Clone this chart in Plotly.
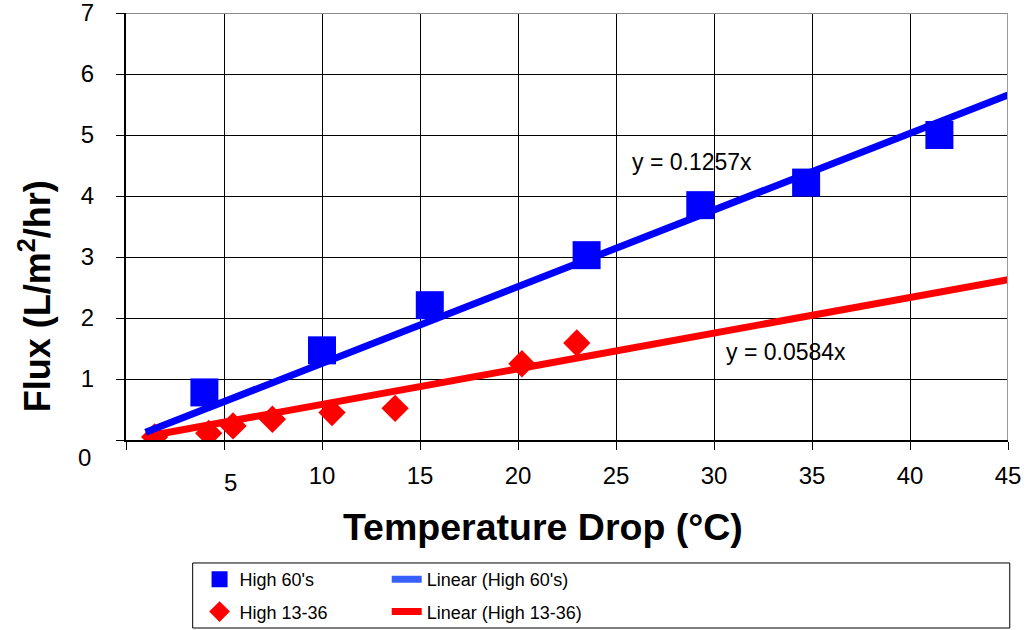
import plotly.graph_objects as go

# ---- data ----
hi60_x = [4.0, 10.0, 15.5, 23.5, 29.3, 34.7, 41.5]
hi60_y = [0.78, 1.47, 2.21, 3.03, 3.85, 4.22, 5.0]

hi1336_x = [1.46, 4.22, 5.46, 7.47, 10.51, 13.73, 20.2, 23.0]
hi1336_y = [0.05, 0.11, 0.23, 0.34, 0.45, 0.52, 1.25, 1.59]

trend_x = [1.0, 45.0]
trend_hi60_y = [0.126, 5.657]
trend_hi1336_y = [0.058, 2.628]

eq_hi60 = "y = 0.1257x"
eq_hi1336 = "y = 0.0584x"

x_tick_vals = [0, 5, 10, 15, 20, 25, 30, 35, 40, 45]
x_tick_text = ["", "", "10", "15", "20", "25", "30", "35", "40", "45"]
y_tick_vals = [0, 1, 2, 3, 4, 5, 6, 7]
y_tick_text = ["", "1", "2", "3", "4", "5", "6", "7"]

FONT = "Liberation Sans, Arial, sans-serif"
BLUE = "#0000ff"
RED = "#ff0000"

fig = go.Figure()

fig.add_trace(go.Scatter(
    x=hi60_x, y=hi60_y, mode="markers", name="High 60's",
    marker=dict(symbol="square", size=28, color=BLUE),
    legend="legend", legendgroup="a"))
fig.add_trace(go.Scatter(
    x=hi1336_x, y=hi1336_y, mode="markers", name="High 13-36",
    marker=dict(symbol="diamond", size=21, color=RED),
    legend="legend", legendgroup="b"))
# legend-only entry (legend swatch is lighter blue in the reference)
fig.add_trace(go.Scatter(
    x=[None], y=[None], mode="lines", name="Linear (High 60's)",
    line=dict(color="#3860ff", width=7),
    legend="legend2", legendgroup="c"))
fig.add_trace(go.Scatter(
    x=trend_x, y=trend_hi1336_y, mode="lines", name="Linear (High 13-36)",
    line=dict(color=RED, width=7),
    legend="legend2", legendgroup="d"))
fig.add_trace(go.Scatter(
    x=trend_x, y=trend_hi60_y, mode="lines", name="Linear (High 60's)",
    line=dict(color=BLUE, width=7), showlegend=False))

legend_common = dict(
    font=dict(family=FONT, size=18, color="black"),
    bgcolor="rgba(0,0,0,0)", borderwidth=0,
    orientation="v", yanchor="top", xanchor="left",
    tracegroupgap=6, itemsizing="trace")

fig.update_layout(
    template="none",
    width=1029, height=630,
    margin=dict(l=126, r=21, t=13, b=190, autoexpand=False),
    paper_bgcolor="white", plot_bgcolor="white",
    font=dict(family=FONT, color="black"),
    showlegend=True,
    legend=dict(x=0.0834, y=-0.2834, **legend_common),
    legend2=dict(x=0.2956, y=-0.2834, **legend_common),
    xaxis=dict(
        range=[0, 45], tickmode="array", tickvals=x_tick_vals, ticktext=x_tick_text,
        showgrid=True, gridcolor="black", gridwidth=1,
        showline=True, linecolor="black", linewidth=2,
        ticks="outside", ticklen=8, tickcolor="black", tickwidth=1,
        tickfont=dict(family=FONT, size=24, color="black"),
        ticklabelstandoff=5, ticklabeloverflow="allow",
        zeroline=False, automargin=False),
    yaxis=dict(
        range=[0, 7], tickmode="array", tickvals=y_tick_vals, ticktext=y_tick_text,
        showgrid=True, gridcolor="black", gridwidth=1,
        showline=True, linecolor="black", linewidth=2,
        ticks="outside", ticklen=8, tickcolor="black", tickwidth=1,
        tickfont=dict(family=FONT, size=24, color="black"),
        ticklabelstandoff=17, ticklabeloverflow="allow",
        zeroline=False, automargin=False),
)

# top / right plot border (grey)
fig.add_shape(type="line", xref="x", yref="y", x0=0, x1=45, y0=7, y1=7,
              line=dict(color="#8a8a8a", width=2))
fig.add_shape(type="line", xref="x", yref="y", x0=45, x1=45, y0=0, y1=7,
              line=dict(color="#9a9a9a", width=2))

# legend box
fig.add_shape(type="rect", xref="paper", yref="paper",
              x0=0.0756, x1=1.002, y0=-0.4403, y1=-0.288,
              line=dict(color="black", width=1), fillcolor="rgba(0,0,0,0)")

# quirky offset tick labels
fig.add_annotation(text="0", xref="paper", yref="y", x=-0.0374, y=0, yshift=-17,
                   xanchor="right", yanchor="middle", showarrow=False,
                   font=dict(family=FONT, size=24, color="black"))
fig.add_annotation(text="5", xref="x", yref="paper", x=5, xshift=6, y=-0.0984,
                   xanchor="center", yanchor="middle", showarrow=False,
                   font=dict(family=FONT, size=24, color="black"))

# equations
fig.add_annotation(text=eq_hi60, xref="x", yref="y", x=28.86, y=4.56,
                   xanchor="center", yanchor="middle",
                   showarrow=False, font=dict(family=FONT, size=23, color="black"))
fig.add_annotation(text=eq_hi1336, xref="x", yref="y", x=33.65, y=1.44,
                   xanchor="center", yanchor="middle",
                   showarrow=False, font=dict(family=FONT, size=23, color="black"))

# axis titles
fig.add_annotation(text="<b>Temperature Drop (°C)</b>", xref="paper", yref="paper",
                   x=0.4725, y=-0.2037, xanchor="center", yanchor="middle",
                   showarrow=False, font=dict(family=FONT, size=37.5, color="black"))
fig.add_annotation(text="<b>Flux (L/m<sup>2</sup>/hr)</b>", xref="paper", yref="paper",
                   x=-0.1035, y=0.336, xanchor="center", yanchor="middle",
                   textangle=-90, showarrow=False,
                   font=dict(family=FONT, size=36, color="black"))

fig.write_html("out.html")
